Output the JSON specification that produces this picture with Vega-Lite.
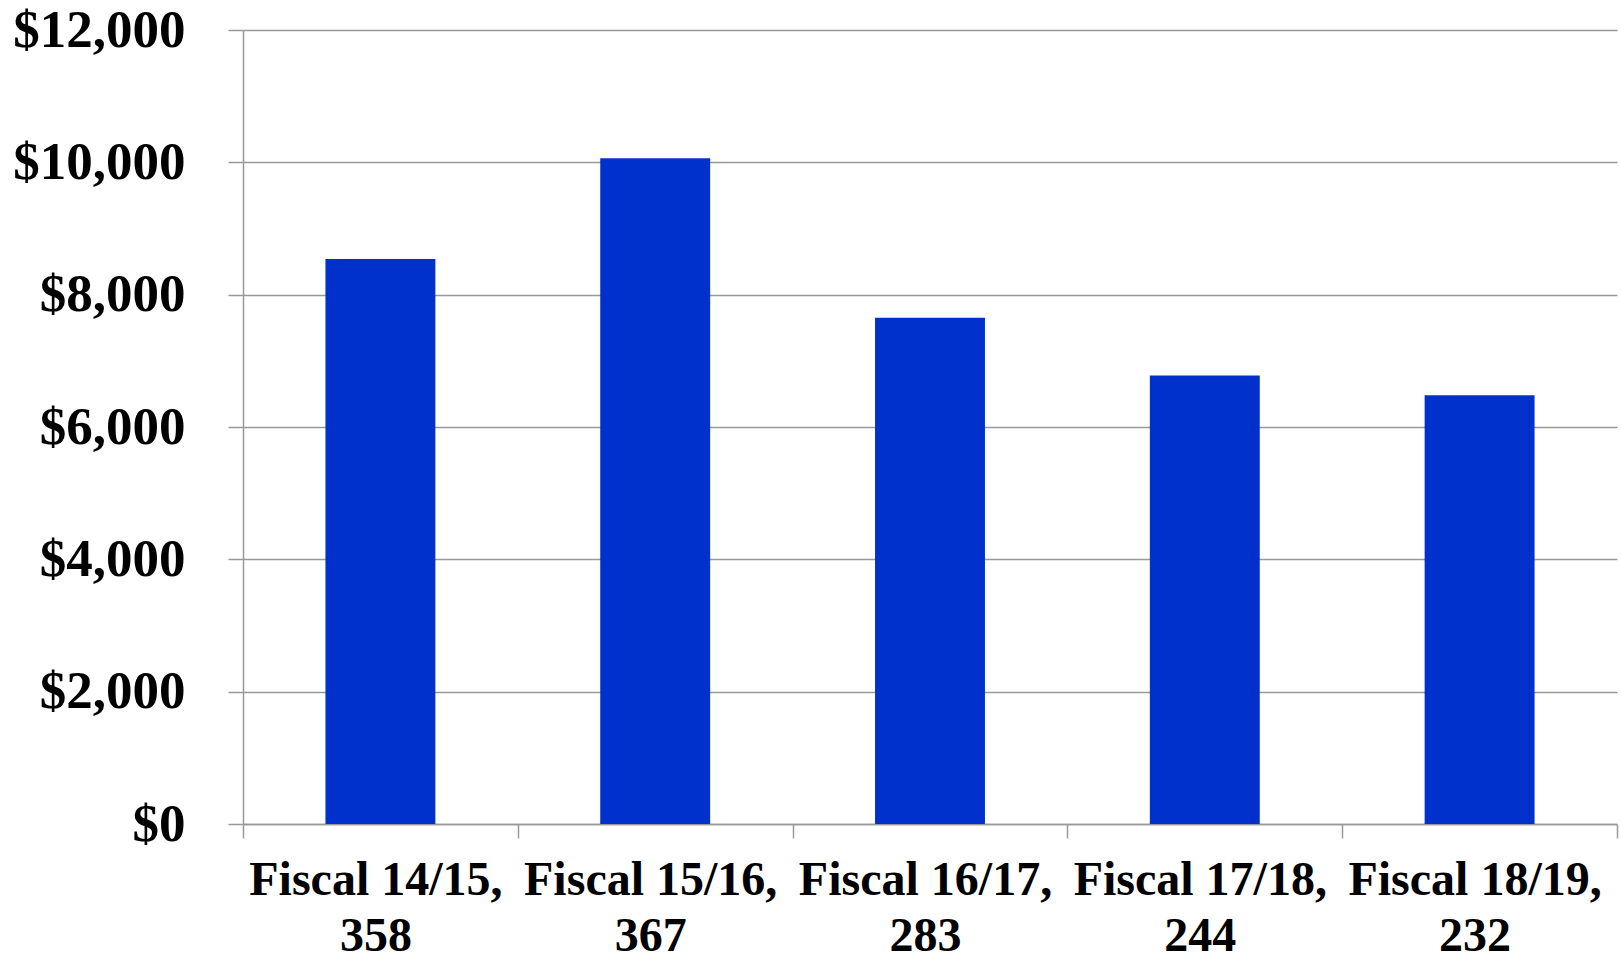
{
  "$schema": "https://vega.github.io/schema/vega-lite/v6.json",
  "autosize": {"type": "none"},
  "padding": {"left": 243, "top": 30, "right": 4, "bottom": 133},
  "width": 1374,
  "height": 794,
  "background": "white",
  "data": {
    "values": [
      {"period": "Fiscal 14/15,|358", "amount": 8540},
      {"period": "Fiscal 15/16,|367", "amount": 10060},
      {"period": "Fiscal 16/17,|283", "amount": 7650},
      {"period": "Fiscal 17/18,|244", "amount": 6780},
      {"period": "Fiscal 18/19,|232", "amount": 6480}
    ]
  },
  "mark": {"type": "bar", "color": "#0031CC", "width": {"band": 0.4}},
  "encoding": {
    "x": {
      "field": "period",
      "type": "nominal",
      "sort": null,
      "scale": {"paddingInner": 0, "paddingOuter": 0},
      "axis": {
        "title": null,
        "labelAngle": 0,
        "labelExpr": "indexof(datum.value + '', '|') >= 0 ? split(datum.value, '|') : ''",
        "labelFont": "Liberation Serif",
        "labelFontWeight": "bold",
        "labelFontSize": 48,
        "labelColor": "black",
        "labelLineHeight": 56,
        "labelLimit": 0,
        "labelPadding": 18,
        "labelOffset": -5,
        "labelBaseline": "top",
        "tickBand": "extent",
        "tickSize": 14,
        "tickColor": "#999999",
        "tickWidth": 1.5,
        "domainColor": "#999999",
        "domainWidth": 1.5,
        "grid": false
      }
    },
    "y": {
      "field": "amount",
      "type": "quantitative",
      "scale": {"domain": [0, 12000], "nice": false},
      "axis": {
        "title": null,
        "values": [0, 2000, 4000, 6000, 8000, 10000, 12000],
        "format": "$,.0f",
        "labelFont": "Liberation Serif",
        "labelFontWeight": "bold",
        "labelFontSize": 53,
        "labelColor": "black",
        "labelPadding": 43,
        "tickSize": 15,
        "tickColor": "#999999",
        "tickWidth": 1.5,
        "domainColor": "#999999",
        "domainWidth": 1.5,
        "grid": true,
        "gridColor": "#999999",
        "gridWidth": 1.5
      }
    }
  },
  "config": {"view": {"stroke": null}}
}
